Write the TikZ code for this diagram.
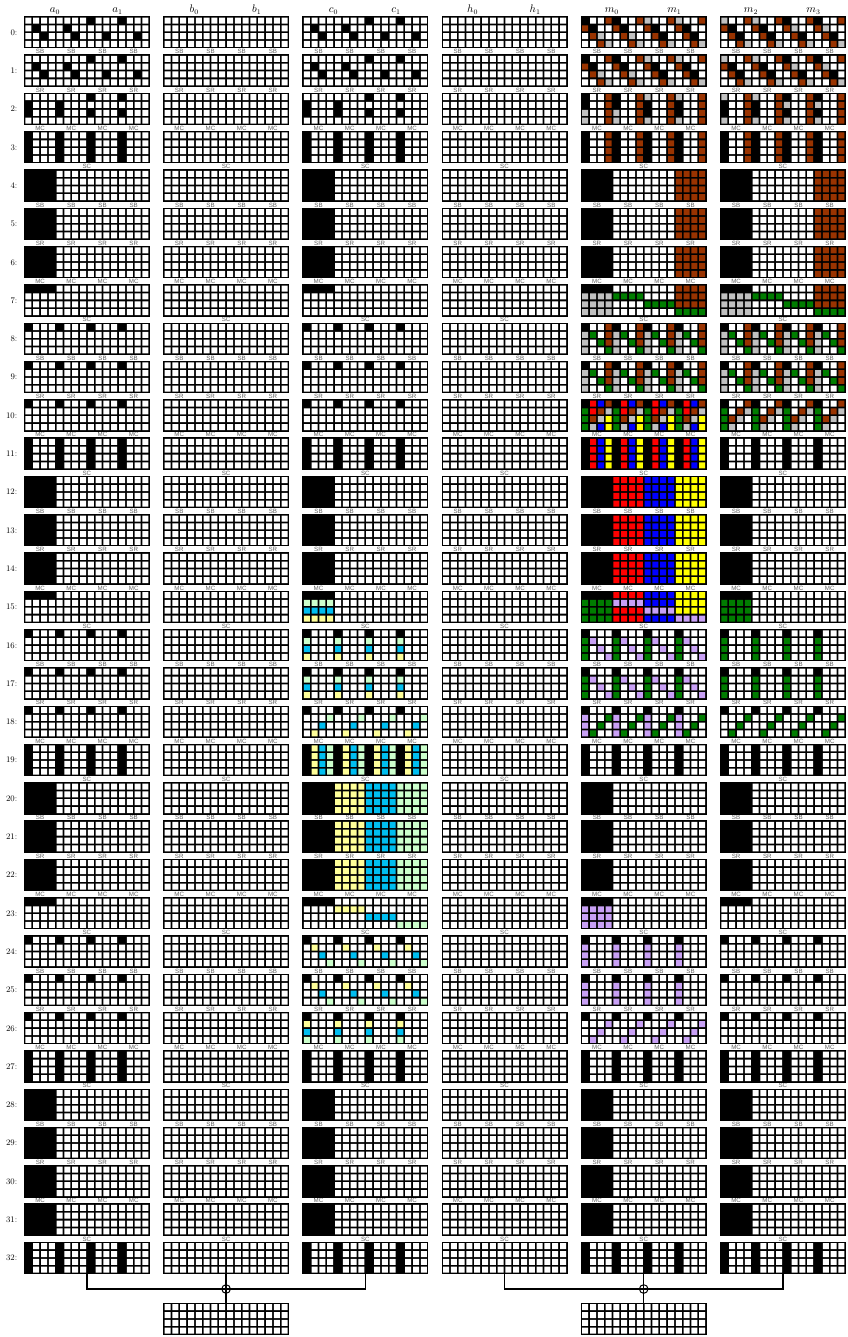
\documentclass[tikz,border=0pt]{standalone}
\usepackage{fontspec}
\setsansfont{Liberation Sans}
\definecolor{cello}{RGB}{255,255,255}
\definecolor{cellB}{RGB}{153,51,0}
\definecolor{cellG}{RGB}{192,192,192}
\definecolor{cellN}{RGB}{0,125,0}
\definecolor{cellR}{RGB}{255,0,0}
\definecolor{cellU}{RGB}{0,0,255}
\definecolor{cellY}{RGB}{255,255,0}
\definecolor{cellP}{RGB}{200,160,245}
\definecolor{celly}{RGB}{255,255,153}
\definecolor{cellc}{RGB}{0,190,240}
\definecolor{cellg}{RGB}{204,255,204}
\newcount\gcc
\def\Wh{oooooooooooooooo}
\def\Wt{oooooooooooo}
\def\BLr{KKKKoooooooooooo}
\def\Qu#1{#1#1#1#1}
\def\gpc#1{\expandafter\let\csname gpX#1\endcsname\empty}
\def\gpclear{\gpc o\gpc B\gpc G\gpc N\gpc R\gpc U\gpc Y\gpc P\gpc y\gpc c\gpc g}
\def\gpf#1{\expandafter\ifx\csname gpX#1\endcsname\empty\else
  \edef\gptmp{\csname gpX#1\endcsname}\fill[fill=cell#1] \gptmp;\fi}
\def\gpfill{\gpf o\gpf B\gpf G\gpf N\gpf R\gpf U\gpf Y\gpf P\gpf y\gpf c\gpf g}
\def\grdrow#1#2{\edef\gtmp{#2}\def\gry{#1}\gcc=0 \expandafter\gparse\gtmp\relax}
\def\gparse#1{\ifx#1\relax\else\gcell{#1}\advance\gcc by 1 \expandafter\gparse\fi}
\def\gcell#1{\if#1K\else
  \expandafter\edef\csname gpX#1\endcsname{\csname gpX#1\endcsname
    (\xo+\the\gcc*7.8+0.9,\yo+\gry*7.8+0.9) rectangle ++(6,6)}\fi}
\def\grdbody#1#2#3#4{\gpclear
  \fill[black] (\xo-0.6,\yo-0.6) rectangle (\xo+125.4,\yo+31.8);
  \grdrow{0}{#1}\grdrow{1}{#2}\grdrow{2}{#3}\grdrow{3}{#4}\gpfill}
\def\Grd#1#2#3#4#5#6{\pgfmathsetmacro\xo{24.5+139.2*#1}\pgfmathsetmacro\yo{16.7+38.3*#2}\grdbody{#3}{#4}{#5}{#6}}
\def\gFC#1#2{\Grd{#1}{#2}{\Qu{Kooo}}{\Qu{Kooo}}{\Qu{Kooo}}{\Qu{Kooo}}}
\def\gBL#1#2{\Grd{#1}{#2}{\BLr}{\BLr}{\BLr}{\BLr}}
\def\gTB#1#2{\Grd{#1}{#2}{\BLr}{\Wh}{\Wh}{\Wh}}
\def\gTD#1#2{\Grd{#1}{#2}{\Qu{Kooo}}{\Wh}{\Wh}{\Wh}}
\def\gAO#1#2{\Grd{#1}{#2}{ooooooooKoooKooo}{oKoooKoooooooooo}{ooKoooKoooKoooKo}{\Wh}}
\def\gAT#1#2{\Grd{#1}{#2}{ooooooooKoooKooo}{KoooKooooooooooo}{KoooKoooKoooKooo}{\Wh}}
\begin{document}
\begin{tikzpicture}[x=1pt,y=-1pt,
  lab/.style={font=\fontsize{6.2}{6.2}\selectfont\sffamily,text=black!62,inner sep=0pt},
  rowlab/.style={font=\fontsize{8.5}{8.5}\selectfont,anchor=east,inner sep=0pt},
  head/.style={font=\fontsize{10.5}{10.5}\selectfont,anchor=base,inner sep=0pt},
  conn/.style={line width=1.3pt},
  xorc/.style={circle,draw,line width=1pt,minimum size=8.6pt,inner sep=0pt}]
\useasboundingbox (0,0) rectangle (847,1337);
% headers
\foreach \c/\n in {0/a,1/b,2/c,3/h}{
  \node[head] (h\n0) at (24.5+139.2*\c+30.5,12.5) {$\n_0$};
  \node[head] (h\n1) at (24.5+139.2*\c+93,12.5) {$\n_1$};}
\node[head] (hm0) at (24.5+139.2*4+30.5,12.5) {$m_0$};
\node[head] (hm1) at (24.5+139.2*4+93,12.5) {$m_1$};
\node[head] (hm2) at (24.5+139.2*5+30.5,12.5) {$m_2$};
\node[head] (hm3) at (24.5+139.2*5+93,12.5) {$m_3$};
% row labels
\foreach \r in {0,...,32}{\node[rowlab] (rl\r) at (17.5,16.7+38.3*\r+15.8) {\r:};}
% operation labels
\foreach \r in {0,...,31}{
  \pgfmathtruncatemacro\op{mod(\r,4)}
  \pgfmathsetmacro\yl{16.7+38.3*\r+35.0}
  \foreach \c in {0,...,5}{
    \pgfmathsetmacro\xl{24.5+139.2*\c}
    \ifcase\op
      \foreach \k in {0,...,3}{\node[lab] at (\xl+15.6+31.2*\k,\yl) {SB};}
    \or
      \foreach \k in {0,...,3}{\node[lab] at (\xl+15.6+31.2*\k,\yl) {SR};}
    \or
      \foreach \k in {0,...,3}{\node[lab] at (\xl+15.6+31.2*\k,\yl) {MC};}
    \or
      \node[lab] at (\xl+62.4,\yl) {SC};
    \fi}}
% white columns b and h
\foreach \r in {0,...,32}{\Grd{1}{\r}{\Wh}{\Wh}{\Wh}{\Wh}\Grd{3}{\r}{\Wh}{\Wh}{\Wh}{\Wh}}
% columns a and c common parts
\foreach \c in {0,2}{
  \gAO{\c}{0}\gAO{\c}{1}\gAT{\c}{2}\gFC{\c}{3}
  \gBL{\c}{4}\gBL{\c}{5}\gBL{\c}{6}\gTB{\c}{7}
  \gTD{\c}{8}\gTD{\c}{9}\gTD{\c}{10}\gFC{\c}{11}
  \gBL{\c}{12}\gBL{\c}{13}\gBL{\c}{14}}
% column a rest
\gTB{0}{15}\gTD{0}{16}\gTD{0}{17}\gTD{0}{18}\gFC{0}{19}
\gBL{0}{20}\gBL{0}{21}\gBL{0}{22}\gTB{0}{23}
\gTD{0}{24}\gTD{0}{25}\gTD{0}{26}
% column c rest
\Grd{2}{15}{\BLr}{gggg\Wt}{cccc\Wt}{yyyy\Wt}
\Grd{2}{16}{\Qu{Kooo}}{\Qu{gooo}}{\Qu{cooo}}{\Qu{yooo}}
\Grd{2}{17}{\Qu{Kooo}}{\Qu{gooo}}{\Qu{cooo}}{\Qu{yooo}}
\Grd{2}{18}{\Qu{Kooo}}{\Qu{ooog}}{\Qu{ooco}}{\Qu{oyoo}}
\Grd{2}{19}{\Qu{Kycg}}{\Qu{Kycg}}{\Qu{Kycg}}{\Qu{Kycg}}
\foreach \r in {20,21,22}{\Grd{2}{\r}{KKKKyyyyccccgggg}{KKKKyyyyccccgggg}{KKKKyyyyccccgggg}{KKKKyyyyccccgggg}}
\Grd{2}{23}{\BLr}{ooooyyyyoooooooo}{oooooooocccc oooo}{oooooooooooogggg}
\Grd{2}{24}{\Qu{Kooo}}{\Qu{oyoo}}{\Qu{ooco}}{\Qu{ooog}}
\Grd{2}{25}{\Qu{Kooo}}{\Qu{oyoo}}{\Qu{ooco}}{\Qu{ooog}}
\Grd{2}{26}{\Qu{Kooo}}{\Qu{yooo}}{\Qu{cooo}}{\Qu{gooo}}
% common tail for a, c, m, m'
\foreach \c in {0,2,4,5}{
  \gFC{\c}{27}\gBL{\c}{28}\gBL{\c}{29}\gBL{\c}{30}\gBL{\c}{31}\gFC{\c}{32}}
\foreach \c in {4,5}{\gFC{\c}{19}\gBL{\c}{20}\gBL{\c}{21}\gBL{\c}{22}}
% columns m and m' common
\foreach \c in {4,5}{
  \Grd{\c}{3}{\Qu{KooB}}{\Qu{KooB}}{\Qu{KooB}}{\Qu{KooB}}
  \Grd{\c}{4}{KKKKooooooooBBBB}{KKKKooooooooBBBB}{KKKKooooooooBBBB}{KKKKooooooooBBBB}
  \Grd{\c}{5}{KKKKooooooooBBBB}{KKKKooooooooBBBB}{KKKKooooooooBBBB}{KKKKooooooooBBBB}
  \Grd{\c}{6}{KKKKooooooooBBBB}{KKKKooooooooBBBB}{KKKKooooooooBBBB}{KKKKooooooooBBBB}
  \Grd{\c}{7}{KKKKooooooooBBBB}{GGGGNNNNooooBBBB}{GGGGooooNNNNBBBB}{GGGGooooooooNNNN}
  \Grd{\c}{8}{\Qu{KooB}}{\Qu{GNoB}}{\Qu{GoNB}}{\Qu{GooN}}
  \Grd{\c}{9}{\Qu{KooB}}{\Qu{GNoB}}{\Qu{GoNB}}{\Qu{GooN}}}
% m rows 0-2
\Grd{4}{0}{KooBKooBGooBGooB}{BKooBKooBKooBKoo}{oBGooBGooBKooBKo}{ooBGooBGooBGooBG}
\Grd{4}{1}{KooBKooBGooBGooB}{BKooBKooBKooBKoo}{oBGooBGooBKooBKo}{ooBGooBGooBGooBG}
\Grd{4}{2}{KooBKooBGooBGooB}{KooBKooBKooBKooB}{GooBGooBKooBKooB}{GooBGooBGooBGooB}
% m' rows 0-2
\Grd{5}{0}{GooBGooBKooBKooB}{BKooBKooBGooBGoo}{oBKooBKooBKooBKo}{ooBGooBGooBGooBG}
\Grd{5}{1}{GooBGooBKooBKooB}{BKooBKooBGooBGoo}{oBKooBKooBKooBKo}{ooBGooBGooBGooBG}
\Grd{5}{2}{GooBGooBKooBKooB}{KooBKooBGooBGooB}{KooBKooBKooBKooB}{GooBGooBGooBGooB}
% m rows 10-26
\Grd{4}{10}{\Qu{KRUB}}{\Qu{NRBG}}{\Qu{NBGY}}{\Qu{NGUY}}
\Grd{4}{11}{\Qu{KRUY}}{\Qu{KRUY}}{\Qu{KRUY}}{\Qu{KRUY}}
\foreach \r in {12,13,14}{\Grd{4}{\r}{KKKKRRRRUUUUYYYY}{KKKKRRRRUUUUYYYY}{KKKKRRRRUUUUYYYY}{KKKKRRRRUUUUYYYY}}
\Grd{4}{15}{KKKKRRRRUUUUYYYY}{NNNNPPPPUUUUYYYY}{NNNNRRRRPPPPYYYY}{NNNNRRRRUUUUPPPP}
\Grd{4}{16}{\Qu{Kooo}}{\Qu{NPoo}}{\Qu{NoPo}}{\Qu{NooP}}
\Grd{4}{17}{\Qu{Kooo}}{\Qu{NPoo}}{\Qu{NoPo}}{\Qu{NooP}}
\Grd{4}{18}{\Qu{Kooo}}{\Qu{PooN}}{\Qu{PoNo}}{\Qu{PNoo}}
\Grd{4}{23}{\BLr}{PPPP\Wt}{PPPP\Wt}{PPPP\Wt}
\Grd{4}{24}{\Qu{Kooo}}{\Qu{Pooo}}{\Qu{Pooo}}{\Qu{Pooo}}
\Grd{4}{25}{\Qu{Kooo}}{\Qu{Pooo}}{\Qu{Pooo}}{\Qu{Pooo}}
\Grd{4}{26}{\Qu{Kooo}}{\Qu{oooP}}{\Qu{ooPo}}{\Qu{oPoo}}
% m' rows 10-26
\Grd{5}{10}{\Qu{KooB}}{\Qu{NoBG}}{\Qu{NBGo}}{\Qu{NGoo}}
\gFC{5}{11}\gBL{5}{12}\gBL{5}{13}\gBL{5}{14}
\Grd{5}{15}{\BLr}{NNNN\Wt}{NNNN\Wt}{NNNN\Wt}
\Grd{5}{16}{\Qu{Kooo}}{\Qu{Nooo}}{\Qu{Nooo}}{\Qu{Nooo}}
\Grd{5}{17}{\Qu{Kooo}}{\Qu{Nooo}}{\Qu{Nooo}}{\Qu{Nooo}}
\Grd{5}{18}{\Qu{Kooo}}{\Qu{oooN}}{\Qu{ooNo}}{\Qu{oNoo}}
\gTB{5}{23}\gTD{5}{24}\gTD{5}{25}\gTD{5}{26}
% result grids
\foreach \c in {1,4}{\pgfmathsetmacro\xo{24.5+139.2*\c}\def\yo{1303.3}\grdbody{\Wh}{\Wh}{\Wh}{\Wh}}
% connectors
\coordinate (a32) at (86.9,1274.1);
\coordinate (b32) at (226.1,1274.1);
\coordinate (c32) at (365.3,1274.1);
\coordinate (res1) at (226.1,1302.7);
\coordinate (h32) at (504.5,1274.1);
\coordinate (m32) at (643.7,1274.1);
\coordinate (n32) at (782.9,1274.1);
\coordinate (res2) at (643.7,1302.7);
\node[xorc] (x1) at (226.1,1289) {};
\node[xorc] (x2) at (643.7,1289) {};
\draw[conn] (a32) -- (a32 |- x1) -- (c32 |- x1) -- (c32);
\draw[conn] (b32) -- (res1);
\draw[conn] (h32) -- (h32 |- x2) -- (n32 |- x2) -- (n32);
\draw[conn] (m32) -- (res2);
\end{tikzpicture}
\end{document}
